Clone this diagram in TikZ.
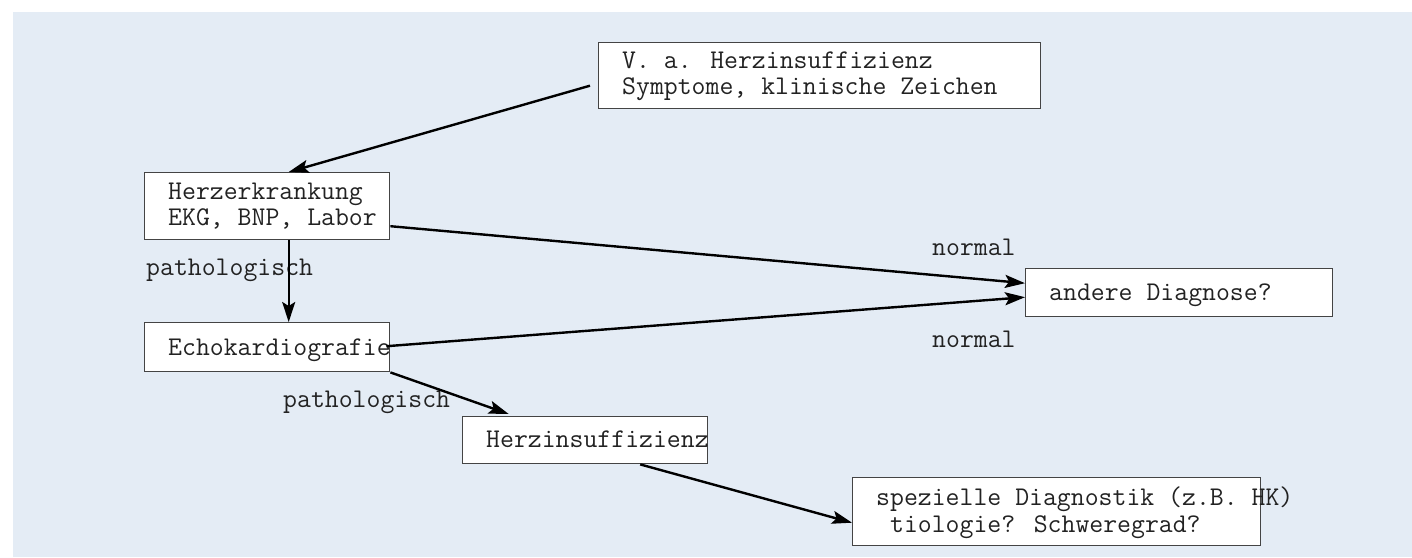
\documentclass[tikz,border=0pt]{standalone}
\usepackage{fontspec}
\usetikzlibrary{arrows.meta,calc}
\definecolor{bgblue}{HTML}{E4ECF5}
\definecolor{boxline}{HTML}{444444}
\definecolor{txt}{HTML}{222222}
\begin{document}
\begin{tikzpicture}[x=1pt,y=-1pt,
  box/.style={draw=boxline,line width=1.4pt,fill=white,inner sep=0pt,anchor=north west},
  lbl/.style={anchor=base west,inner sep=0pt,text=txt,font=\ttfamily\fontsize{27}{24}\selectfont},
  two/.style={lbl,align=left},
  arr/.style={line width=2.4pt,-{Stealth[length=20pt,width=13pt,inset=4pt]}}]
\useasboundingbox (0,0) rectangle (1412,557);
\fill[bgblue] (13,12) rectangle (1412,557);
% boxes
\node[box,minimum width=442pt,minimum height=66pt] (top) at (598,42) {};
\node[box,minimum width=245pt,minimum height=67pt] (herz) at (144,172) {};
\node[box,minimum width=245pt,minimum height=49pt] (echo) at (144,322) {};
\node[box,minimum width=307pt,minimum height=48pt] (andere) at (1025,268) {};
\node[box,minimum width=245pt,minimum height=47pt] (hins) at (462,416) {};
\node[box,minimum width=408pt,minimum height=68pt] (spez) at (852,477) {};
% texts (base anchor = baseline of last line)
\node[two] (t1) at (622,94) {V. a. Herzinsuffizienz\\[2pt]Symptome, klinische Zeichen};
\node[two] (t3) at (168,225) {Herzerkrankung\\[2pt]EKG, BNP, Labor};
\node[lbl] (t5) at (168,355) {Echokardiografie};
\node[lbl] (t6) at (1049,300) {andere Diagnose?};
\node[lbl] (t7) at (486,447) {Herzinsuffizienz};
\node[two] (t8) at (876,532) {spezielle Diagnostik (z.B. HK)\\[3pt]\ tiologie? Schweregrad?};
% edge labels
\node[lbl] (p1) at (146,275) {pathologisch};
\node[lbl] (n1) at (932,255) {normal};
\node[lbl] (n2) at (932,347) {normal};
\node[lbl] (p2) at (283,407) {pathologisch};
% arrows
\draw[arr] ($(top.west)+(-8,10)$) -- ($(herz.north)+(21.5,0)$);
\draw[arr] ($(herz.south)+(21.5,0)$) -- ($(echo.north)+(21.5,0)$);
\draw[arr] ($(herz.east)+(0,20)$) -- ($(andere.west)+(0,-9.5)$);
\draw[arr] ($(echo.east)+(-4,-1)$) -- ($(andere.west)+(0,4.5)$);
\draw[arr] (echo.south east) -- ($(hins.north)+(-76.5,-2)$);
\draw[arr] ($(hins.south)+(55,0)$) -- ($(spez.west)+(0,11)$);
\end{tikzpicture}
\end{document}
